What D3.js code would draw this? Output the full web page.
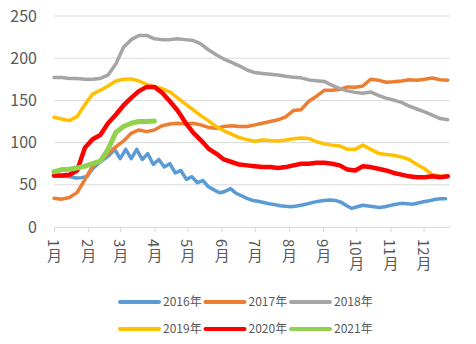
<!DOCTYPE html>
<html>
<head>
<meta charset="utf-8">
<script src="https://cdn.jsdelivr.net/npm/d3@7"></script>
<style>
  body { margin: 0; background: #fff; }
  text { font-family: "Noto Sans CJK SC", "Noto Sans", sans-serif; fill: #595959; }
</style>
</head>
<body>
<script>
// weekly values (one per 7 days from Jan 1), 2016 sampled every 5 days
var y2016 = [60, 60, 60, 59.5, 58, 58.5, 60, 69, 75, 80, 85, 92, 81, 92, 81, 92, 80, 87, 74, 80,
             71, 75, 64, 67, 56.5, 59.6, 52.5, 55, 47.7, 44, 40.5, 42, 45.5, 40, 37, 34, 31.5, 30.5, 29, 27.5,
             26.5, 25.2, 24.5, 24, 24.8, 26, 27.5, 29.2, 30.5, 31.3, 32, 31.5, 29.5, 25.5, 22, 24, 25.8, 25, 24, 23,
             24, 25.6, 27, 28, 27.5, 27, 28.5, 30, 31, 32.5, 33.5, 33.5];
var y2017 = [34, 33, 35, 41, 56, 72, 79, 87, 95, 102, 111, 115, 113, 115, 120, 122, 123, 122, 123, 121,
             118, 117, 119, 120, 119, 119, 121, 123, 125, 127, 130.5, 138, 139, 149, 155, 162, 162, 163, 166, 165.5,
             167, 175, 174, 171.5, 172, 173, 174.5, 174, 175, 176.5, 174.5, 174];
var y2018 = [177, 177, 176, 176, 175, 175, 176, 180, 193, 213, 222, 227, 227, 223, 222, 222, 223, 222, 221, 217,
             210, 204, 199, 195, 191, 186, 183, 182, 181, 180, 178.5, 177.5, 176.7, 174.3, 173.4, 172.5, 168, 164, 161.3, 159.5,
             158.5, 160, 156, 152.7, 150.4, 147.7, 143.3, 139.8, 136.3, 132.5, 128.5, 127];
var y2019 = [130, 128, 126, 131, 145, 157.5, 162, 167, 173, 175, 175.5, 173, 169, 166, 164, 160, 153, 146, 139, 132,
             126, 119, 114, 110, 106, 103.5, 101.5, 103, 102.5, 102, 103, 104.5, 105.5, 105, 101, 98.5, 97, 96, 92, 92,
             97, 92, 87.5, 86, 85, 83, 80, 74, 69, 62, 60.5, 60];
var y2020 = [61, 61, 62, 67, 94, 104, 109, 123, 133, 144, 153, 161, 166, 166, 159, 149, 138, 124, 112, 103,
             93, 87, 80, 77, 74, 73, 72, 71, 71, 70, 71, 73, 75, 75, 76, 76, 75, 73, 68, 67,
             72, 71, 69, 67, 64, 62, 60, 59, 59, 60, 59, 60];
var y2021 = [65.5, 68, 68.5, 70, 72, 75, 78, 92, 112, 119, 123, 125, 125, 125.5];

var years = ["2016年", "2017年", "2018年", "2019年", "2020年", "2021年"];
var colors = ["#5B9BD5", "#ED7D31", "#A5A5A5", "#FFC000", "#FF0000", "#92D050"];
var widths = [3.5, 3.5, 3.5, 3.5, 4.5, 5];
var yTicks = [0, 50, 100, 150, 200, 250];

var start = new Date(2016, 0, 1);
function pts(vals, step) {
  return vals.map(function(v, i) { return {date: d3.timeDay.offset(start, i * step), v: v}; });
}
var series = [pts(y2016, 5), pts(y2017, 7), pts(y2018, 7), pts(y2019, 7), pts(y2020, 7), pts(y2021, 7)];

var svg = d3.select("body").append("svg").attr("width", 476).attr("height", 344);

var x = d3.scaleTime().domain([start, new Date(2016, 11, 25)]).range([54, 450]);
var y = d3.scaleLinear().domain([0, 250]).range([227, 16]);

// grid
svg.selectAll("line.grid")
  .data(yTicks.slice(1))
  .enter().append("line")
          .attr("class", "grid")
          .attr("x1", 54).attr("x2", 450)
          .attr("y1", function(d) { return y(d); })
          .attr("y2", function(d) { return y(d); })
          .attr("stroke", "#d9d9d9")
          .attr("stroke-width", 1);

svg.selectAll("text.ylab")
  .data(yTicks)
  .enter().append("text")
          .attr("class", "ylab")
          .attr("x", 37)
          .attr("y", function(d) { return y(d); })
          .attr("dy", "0.35em")
          .attr("text-anchor", "end")
          .attr("font-size", 16)
          .text(function(d) { return d; });

// x axis
var xAxis = d3.axisBottom(x)
  .ticks(d3.timeMonth.every(1))
  .tickSize(5)
  .tickSizeOuter(0)
  .tickFormat(function(d) { return (d.getMonth() + 1) + "月"; });

var gx = svg.append("g").attr("transform", "translate(0,227)").call(xAxis);
gx.select(".domain").attr("stroke", "#d9d9d9");
gx.selectAll(".tick line").attr("stroke", "#d9d9d9");
gx.selectAll(".tick text")
  .attr("y", 12)
  .attr("dy", null)
  .attr("text-anchor", "start")
  .style("writing-mode", "vertical-rl")
  .style("font-family", "\"Noto Sans CJK SC\", sans-serif")
  .attr("font-size", 15)
  .attr("fill", "#595959");

// lines
var line = d3.line()
  .x(function(d) { return x(d.date); })
  .y(function(d) { return y(d.v); });

svg.selectAll("path.series")
  .data(series)
  .enter().append("path")
          .attr("class", "series")
          .attr("d", line)
          .attr("fill", "none")
          .attr("stroke", function(d, i) { return colors[i]; })
          .attr("stroke-width", function(d, i) { return widths[i]; })
          .attr("stroke-linejoin", "round")
          .attr("stroke-linecap", "round");

// legend
var leg = svg.selectAll("g.leg")
  .data(years)
  .enter().append("g")
          .attr("class", "leg")
          .attr("transform", function(d, i) { return "translate(" + (119 + (i % 3) * 85.5) + "," + (i < 3 ? 302 : 329) + ")"; });

leg.append("line")
   .attr("x1", 1).attr("x2", 40)
   .attr("stroke", function(d, i) { return colors[i]; })
   .attr("stroke-width", 4)
   .attr("stroke-linecap", "round");

leg.append("text")
   .attr("x", 44)
   .attr("dy", "0.35em")
   .attr("font-size", 12)
   .text(function(d) { return d; });
</script>
</body>
</html>
